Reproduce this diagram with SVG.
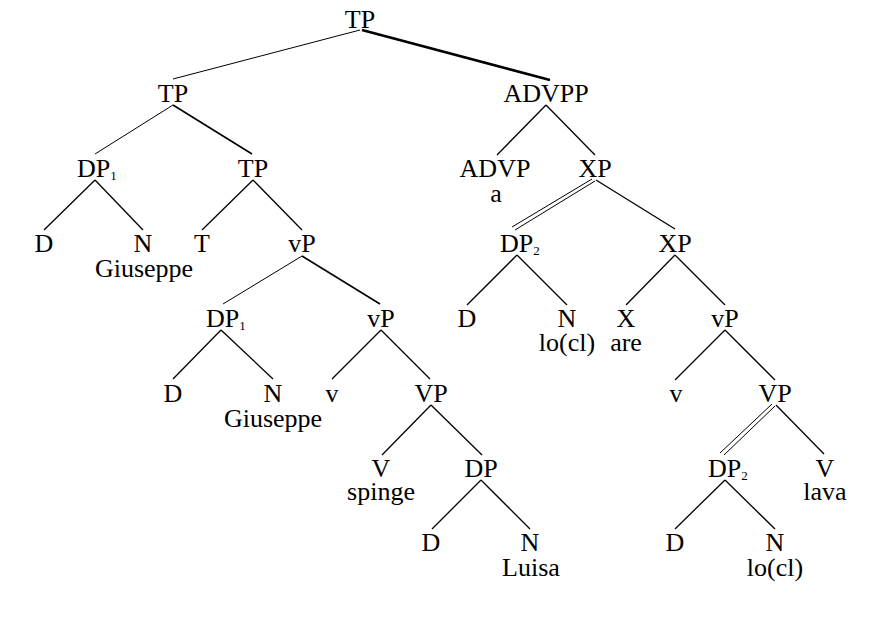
<svg xmlns="http://www.w3.org/2000/svg" width="890" height="635" viewBox="0 0 890 635">
<style>
text{font-family:"Liberation Serif","Times New Roman",serif;font-size:26px;fill:#000}
.c{text-anchor:middle}
.s{font-size:13px}
line{stroke:#000;stroke-width:1.3;stroke-linecap:butt}
.t{stroke-width:1}
.m{stroke-width:1.6}
.k{stroke-width:2.6}
</style>
<rect width="890" height="635" fill="#fff"/>
<g id="connectors">
<line class="t" x1="360" y1="30" x2="173" y2="79"/>
<line class="k" x1="362" y1="30" x2="550" y2="80"/>
<line class="t" x1="173" y1="105" x2="95" y2="154"/>
<line class="m" x1="173" y1="105" x2="252" y2="154"/>
<line x1="95" y1="180" x2="44" y2="230"/>
<line x1="95" y1="180" x2="143" y2="230"/>
<line x1="253" y1="180" x2="202" y2="230"/>
<line x1="253" y1="180" x2="302" y2="230"/>
<line class="t" x1="302" y1="256" x2="223" y2="304"/>
<line class="m" x1="302" y1="256" x2="380" y2="304"/>
<line x1="221" y1="330" x2="173" y2="379"/>
<line x1="221" y1="330" x2="273" y2="379"/>
<line x1="381" y1="330" x2="332" y2="379"/>
<line x1="381" y1="330" x2="430" y2="379"/>
<line x1="431" y1="405" x2="382" y2="455"/>
<line x1="431" y1="405" x2="482" y2="455"/>
<line x1="481" y1="480" x2="432" y2="529"/>
<line x1="481" y1="480" x2="530" y2="529"/>
<line x1="546" y1="105" x2="497" y2="155"/>
<line x1="546" y1="105" x2="595" y2="155"/>
<line class="t" x1="592" y1="179" x2="512" y2="227"/>
<line class="t" x1="595" y1="181" x2="515" y2="230"/>
<line x1="596" y1="180" x2="675" y2="229"/>
<line x1="517" y1="255" x2="467" y2="305"/>
<line x1="517" y1="255" x2="567" y2="305"/>
<line x1="675" y1="255" x2="626" y2="305"/>
<line x1="675" y1="255" x2="725" y2="305"/>
<line x1="725" y1="330" x2="675" y2="380"/>
<line x1="725" y1="330" x2="775" y2="380"/>
<line class="t" x1="772" y1="404" x2="720" y2="453"/>
<line class="t" x1="775" y1="406" x2="724" y2="455"/>
<line x1="776" y1="405" x2="824" y2="454"/>
<line x1="725" y1="480" x2="675" y2="529"/>
<line x1="725" y1="480" x2="775" y2="529"/>
</g>
<g id="n-tp-root"><text class="c" x="360" y="28">TP</text></g>
<g id="n-tp-2"><text class="c" x="173" y="102">TP</text></g>
<g id="n-dp1-a"><text x="77" y="177">DP<tspan class="s" dy="3">1</tspan></text></g>
<g id="n-tp-3"><text class="c" x="253" y="177">TP</text></g>
<g id="n-d-a"><text class="c" x="44" y="252">D</text></g>
<g id="n-n-a"><text class="c" y="252"><tspan x="143">N</tspan><tspan x="144" dy="25">Giuseppe</tspan></text></g>
<g id="n-t"><text class="c" x="202" y="252">T</text></g>
<g id="n-vp-a"><text class="c" x="302" y="252">vP</text></g>
<g id="n-dp1-b"><text x="206" y="327">DP<tspan class="s" dy="3">1</tspan></text></g>
<g id="n-vp-b"><text class="c" x="381" y="327">vP</text></g>
<g id="n-d-b"><text class="c" x="173" y="402">D</text></g>
<g id="n-n-b"><text class="c" y="402"><tspan x="273">N</tspan><tspan x="273" dy="25">Giuseppe</tspan></text></g>
<g id="n-v-a"><text class="c" x="332" y="402">v</text></g>
<g id="n-VP-a"><text class="c" x="431" y="402">VP</text></g>
<g id="n-V-a"><text class="c" y="477"><tspan x="381">V</tspan><tspan x="381" dy="23">spinge</tspan></text></g>
<g id="n-dp-c"><text class="c" x="481" y="477">DP</text></g>
<g id="n-d-c"><text class="c" x="431" y="551">D</text></g>
<g id="n-n-c"><text class="c" y="551"><tspan x="530">N</tspan><tspan x="531" dy="25">Luisa</tspan></text></g>
<g id="n-advpp"><text class="c" x="546" y="102">ADVPP</text></g>
<g id="n-advp"><text class="c" y="177"><tspan x="495">ADVP</tspan><tspan x="496" dy="25">a</tspan></text></g>
<g id="n-xp-a"><text class="c" x="595" y="177">XP</text></g>
<g id="n-dp2-a"><text x="500" y="252">DP<tspan class="s" dy="3">2</tspan></text></g>
<g id="n-xp-b"><text class="c" x="675" y="252">XP</text></g>
<g id="n-d-d"><text class="c" x="467" y="327">D</text></g>
<g id="n-n-d"><text class="c" y="327"><tspan x="567">N</tspan><tspan x="567" dy="24">lo(cl)</tspan></text></g>
<g id="n-x"><text class="c" y="327"><tspan x="626">X</tspan><tspan x="626" dy="24">are</tspan></text></g>
<g id="n-vp-c"><text class="c" x="725" y="327">vP</text></g>
<g id="n-v-b"><text class="c" x="676" y="402">v</text></g>
<g id="n-VP-b"><text class="c" x="775" y="402">VP</text></g>
<g id="n-dp2-b"><text x="708" y="477">DP<tspan class="s" dy="3">2</tspan></text></g>
<g id="n-V-b"><text class="c" y="477"><tspan x="825">V</tspan><tspan x="825" dy="23">lava</tspan></text></g>
<g id="n-d-e"><text class="c" x="675" y="551">D</text></g>
<g id="n-n-e"><text class="c" y="551"><tspan x="775">N</tspan><tspan x="775" dy="25">lo(cl)</tspan></text></g>
</svg>
